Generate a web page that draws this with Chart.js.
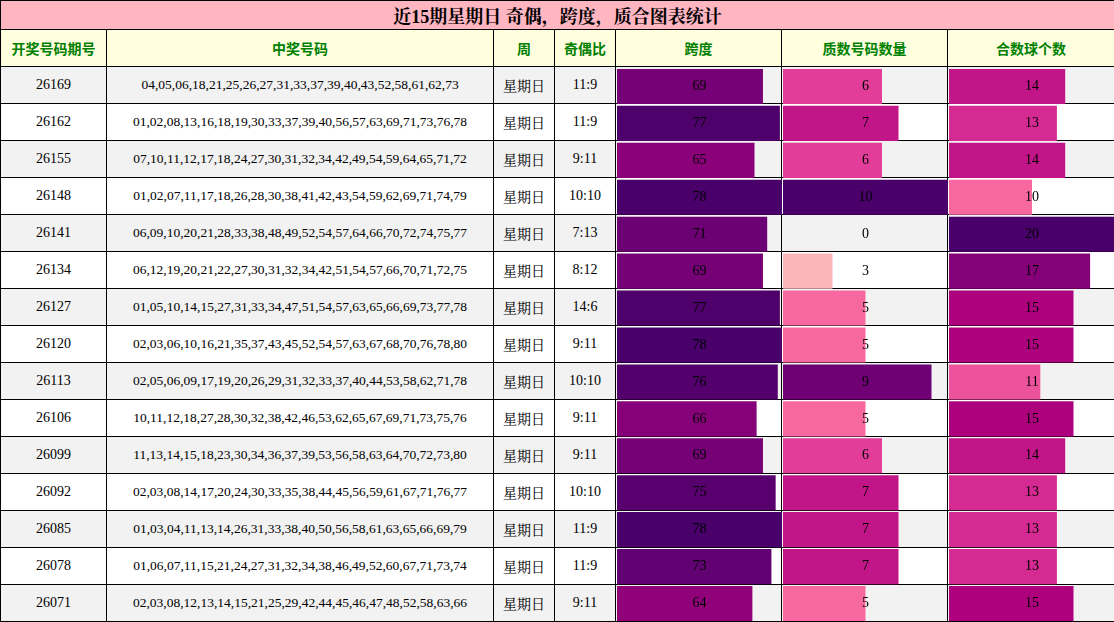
<!DOCTYPE html>
<html><head><meta charset="utf-8">
<script src="https://cdn.jsdelivr.net/npm/chart.js@4/dist/chart.umd.min.js"></script>
<style>
body{margin:0;background:#fff;font-family:"Liberation Serif","Noto Serif CJK SC","Noto Sans CJK SC",serif;}
#wrap{position:relative;width:1114px;height:622px;overflow:hidden}
table{border-collapse:collapse;table-layout:fixed;width:1114px;position:absolute;left:0;top:0}
td,th{border:1px solid #000;text-align:center;padding:0;font-size:14px;white-space:nowrap;overflow:hidden}
.title{background:#FFB6C1;font-size:18px;font-weight:bold;height:28px}
.hd th{background:#FFFFE0;color:#008000;font-weight:bold;height:36px;font-family:"Noto Sans CJK SC",sans-serif;font-size:14px}
.r td{height:36px}
.r:nth-child(odd) td{background:#f2f2f2}
.num{font-size:13.5px}
canvas{position:absolute}
</style></head><body>
<div id="wrap">
<table id="tb">
<colgroup><col style="width:106px"><col style="width:387px"><col style="width:61px"><col style="width:61px"><col style="width:166px"><col style="width:166px"><col style="width:167px"></colgroup>
<thead><tr><th colspan="7" class="title">近15期星期日 奇偶，跨度，质合图表统计</th></tr>
<tr class="hd"><th>开奖号码期号</th><th>中奖号码</th><th>周</th><th>奇偶比</th><th>跨度</th><th>质数号码数量</th><th>合数球个数</th></tr></thead>
<tbody id="body"></tbody></table>
<canvas id="c0"></canvas><canvas id="c1"></canvas><canvas id="c2"></canvas>
</div>
<script>
const periods=["26169","26162","26155","26148","26141","26134","26127","26120","26113","26106","26099","26092","26085","26078","26071"];
const numbers=["04,05,06,18,21,25,26,27,31,33,37,39,40,43,52,58,61,62,73","01,02,08,13,16,18,19,30,33,37,39,40,56,57,63,69,71,73,76,78","07,10,11,12,17,18,24,27,30,31,32,34,42,49,54,59,64,65,71,72","01,02,07,11,17,18,26,28,30,38,41,42,43,54,59,62,69,71,74,79","06,09,10,20,21,28,33,38,48,49,52,54,57,64,66,70,72,74,75,77","06,12,19,20,21,22,27,30,31,32,34,42,51,54,57,66,70,71,72,75","01,05,10,14,15,27,31,33,34,47,51,54,57,63,65,66,69,73,77,78","02,03,06,10,16,21,35,37,43,45,52,54,57,63,67,68,70,76,78,80","02,05,06,09,17,19,20,26,29,31,32,33,37,40,44,53,58,62,71,78","10,11,12,18,27,28,30,32,38,42,46,53,62,65,67,69,71,73,75,76","11,13,14,15,18,23,30,34,36,37,39,53,56,58,63,64,70,72,73,80","02,03,08,14,17,20,24,30,33,35,38,44,45,56,59,61,67,71,76,77","01,03,04,11,13,14,26,31,33,38,40,50,56,58,61,63,65,66,69,79","01,06,07,11,15,21,24,27,31,32,34,38,46,49,52,60,67,71,73,74","02,03,08,12,13,14,15,21,25,29,42,44,45,46,47,48,52,58,63,66"];
const weekday="星期日";
const oddEven=["11:9","11:9","9:11","10:10","7:13","8:12","14:6","9:11","10:10","9:11","9:11","10:10","11:9","11:9","9:11"];
const spans=[69,77,65,78,71,69,77,78,76,66,69,75,78,73,64];
const primes=[6,7,6,10,0,3,5,5,9,5,6,7,7,7,5];
const composites=[14,13,14,10,20,17,15,15,11,15,14,13,13,13,15];

const body=document.getElementById('body');
periods.forEach((p,i)=>{const tr=document.createElement('tr');tr.className='r';
tr.innerHTML=`<td>${p}</td><td class="num">${numbers[i]}</td><td>${weekday}</td><td>${oddEven[i]}</td><td></td><td></td><td></td>`;body.appendChild(tr);});

const stops=[[255,247,243],[253,224,221],[252,197,192],[250,159,181],[247,104,161],[221,52,151],[174,1,126],[122,1,119],[73,0,106]];
function col(t){t=Math.max(0,Math.min(1,t))*(stops.length-1);const i=Math.min(Math.floor(t),stops.length-2),f=t-i;
const c=stops[i].map((v,k)=>Math.round(v+(stops[i+1][k]-v)*f));return `rgb(${c})`;}

const textPlugin={id:'txt',afterDatasetsDraw(ch){const ctx=ch.ctx,m=ch.getDatasetMeta(0);ctx.save();
ctx.font='14px "Liberation Serif",serif';ctx.fillStyle='#000';ctx.textAlign='center';ctx.textBaseline='middle';
m.data.forEach((b,i)=>ctx.fillText(ch.data.datasets[0].data[i],ch.width/2,b.y));ctx.restore();}};

const bodyRows=[...document.querySelectorAll('#body tr')];
const top0=bodyRows[0].getBoundingClientRect().top;
const last=bodyRows[14].getBoundingClientRect();
[[spans,4],[primes,5],[composites,6]].forEach(([d,ci],k)=>{
 const cell=bodyRows[0].children[ci].getBoundingClientRect();
 const cv=document.getElementById('c'+k);
 cv.style.left=(cell.left+1)+'px';cv.style.top=(top0+1)+'px';
 const w=cell.width-1,h=last.bottom-top0-1;cv.style.width=w+'px';cv.style.height=h+'px';cv.width=w;cv.height=h;
 const mx=Math.max(...d);
 new Chart(cv,{type:'bar',data:{labels:periods,datasets:[{data:d,backgroundColor:d.map(v=>col(v/mx)),barPercentage:0.95,categoryPercentage:1,borderWidth:0}]},
 options:{indexAxis:'y',responsive:false,animation:false,layout:{padding:0},
 plugins:{legend:{display:false},tooltip:{enabled:false}},
 scales:{x:{display:false,min:0,max:mx},y:{display:false}}},plugins:[textPlugin]});
});
</script></body></html>
